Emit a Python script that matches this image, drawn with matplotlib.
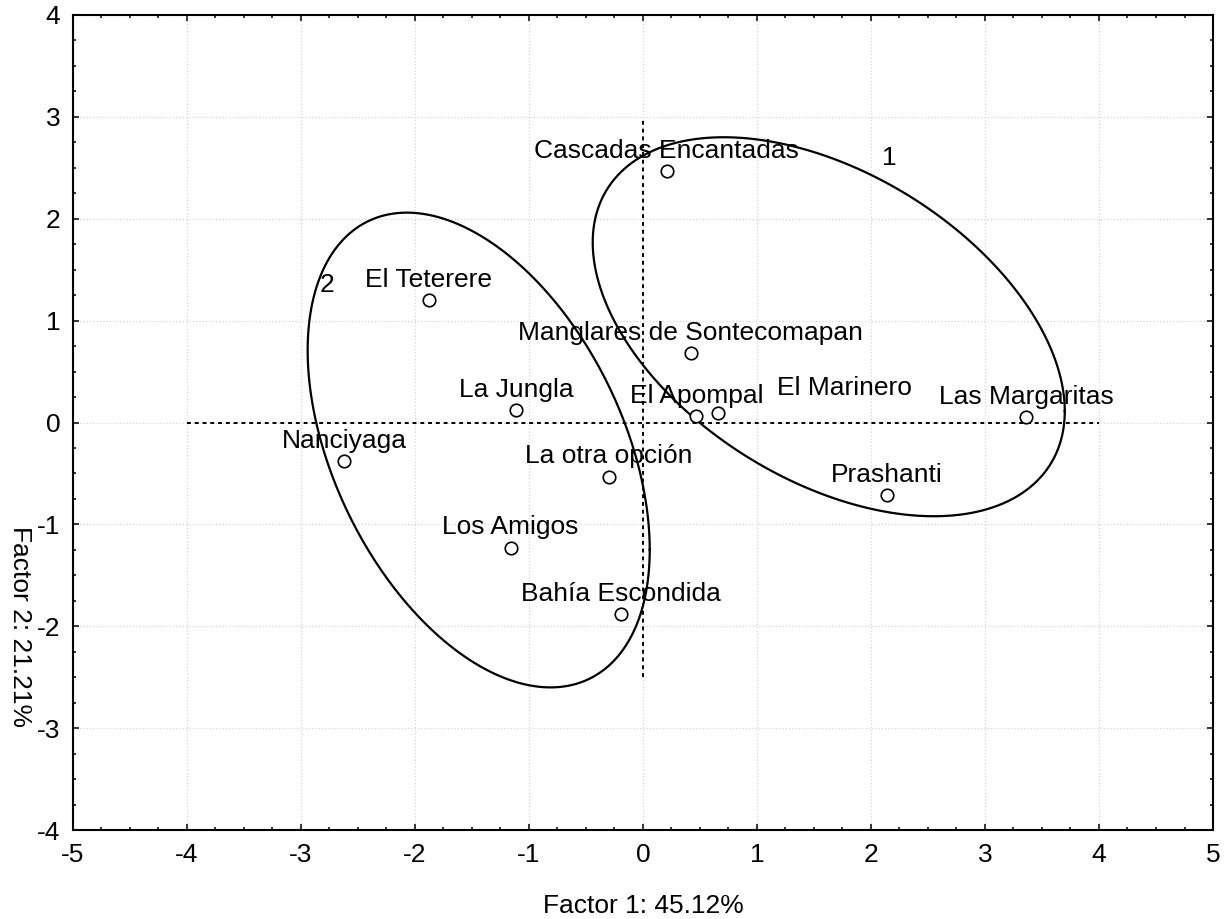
import numpy as np
import matplotlib
matplotlib.use("Agg")
import matplotlib.pyplot as plt

plt.rcParams["font.family"] = ["Liberation Sans", "DejaVu Sans"]
plt.rcParams["axes.unicode_minus"] = False

# puntos (Factor 1, Factor 2)
nombres = ["Cascadas Encantadas", "El Teterere", "Manglares de Sontecomapan",
           "La Jungla", "El Apompal", "El Marinero", "Las Margaritas",
           "Nanciyaga", "La otra opción", "Prashanti", "Los Amigos",
           "Bahía Escondida"]
f1 = [0.21, -1.88, 0.42, -1.11, 0.47, 0.66, 3.36, -2.62, -0.30, 2.14, -1.16, -0.19]
f2 = [2.47, 1.20, 0.68, 0.12, 0.06, 0.09, 0.05, -0.38, -0.53, -0.71, -1.23, -1.88]

# elipses de grupo: centro, semiancho x, semialto y, correlacion
grupos = ["1", "2"]
elip_cx = [1.63, -1.44]
elip_cy = [0.94, -0.27]
elip_hx = [2.07, 1.50]
elip_hy = [1.86, 2.33]
elip_rho = [-0.445, -0.42]
grupo_lbl_x = [2.16, -2.77]
grupo_lbl_y = [2.60, 1.35]

XLABEL = "Factor 1: 45.12%"
YLABEL = "Factor 2: 21.21%"

FS = 19

fig = plt.figure(figsize=(12.27, 9.19), dpi=100)
ax = fig.add_axes([0.0593, 0.0968, 0.9293, 0.8869])

ax.set_xlim(-5, 5)
ax.set_ylim(-4, 4)
ax.set_xticks(np.arange(-5, 6, 1))
ax.set_yticks(np.arange(-4, 5, 1))
ax.set_xticks(np.arange(-5, 5.01, 0.25), minor=True)
ax.set_yticks(np.arange(-4, 4.01, 0.25), minor=True)
ax.tick_params(which="both", direction="in", top=True, right=True, width=1.1,
               labelsize=FS)
ax.tick_params(which="major", length=4)
ax.tick_params(which="minor", length=2.2)
ax.tick_params(axis="x", pad=9)
ax.tick_params(axis="y", pad=9)
for s in ax.spines.values():
    s.set_linewidth(1.5)
ax.grid(True, which="major", color="#d6d6d6", linestyle=":", linewidth=0.9)
ax.set_axisbelow(True)

# lineas de referencia en cero
ax.plot([-4, 4], [0, 0], color="black", linestyle=(0, (2, 2)), linewidth=1.4)
ax.plot([0, 0], [-2.5, 3], color="black", linestyle=(0, (2, 2)), linewidth=1.4)

# elipses
t = np.linspace(0, 2 * np.pi, 400)
for i in range(len(grupos)):
    ex = elip_cx[i] + elip_hx[i] * np.cos(t)
    ey = elip_cy[i] + elip_hy[i] * (elip_rho[i] * np.cos(t)
                                     + np.sqrt(1 - elip_rho[i] ** 2) * np.sin(t))
    ax.plot(ex, ey, color="black", linewidth=1.6)
    ax.text(grupo_lbl_x[i], grupo_lbl_y[i], grupos[i], fontsize=FS,
            ha="center", va="center")

ax.plot(f1, f2, "o", markersize=9, markerfacecolor="white",
        markeredgecolor="black", markeredgewidth=1.2, zorder=5)

for n, x, y in zip(nombres, f1, f2):
    if n == "El Marinero":
        off = (91, 13.5)
    else:
        off = (0, 9.6)
    ax.annotate(n, (x, y), xytext=off, textcoords="offset points",
                ha="center", va="baseline", fontsize=FS)

ax.set_xlabel(XLABEL, fontsize=FS)
ax.xaxis.set_label_coords(0.5, -0.078)
ax.set_ylabel(YLABEL, fontsize=FS, rotation=-90, ha="center", va="center")
ax.yaxis.set_label_coords(-0.046, 0.25)

fig.savefig("out.png", dpi=100)
